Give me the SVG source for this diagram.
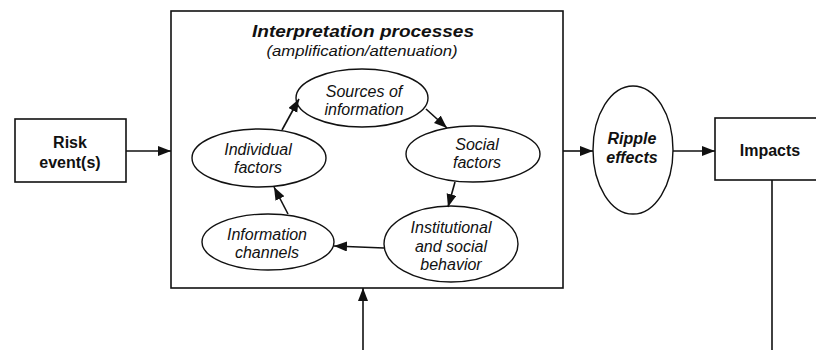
<svg xmlns="http://www.w3.org/2000/svg" width="816" height="350" viewBox="0 0 816 350">
<style>
.box{fill:#fff;stroke:#111;stroke-width:1.6}
.ell{fill:#fff;stroke:#111;stroke-width:1.4}
.con{fill:none;stroke:#111;stroke-width:1.6}
.t{font-family:"Liberation Sans",Arial,sans-serif;fill:#111;text-anchor:middle}
.b{font-weight:bold;font-size:16px}
.i{font-style:italic;font-size:16px}
.bi{font-weight:bold;font-style:italic;font-size:16px}
</style>
<defs>
<marker id="ah" markerUnits="userSpaceOnUse" markerWidth="14" markerHeight="11" refX="13" refY="5" orient="auto">
<path d="M0,0 L13,5 L0,10 z" fill="#111"/>
</marker>
</defs>
<g id="interpretation">
<rect class="box" x="171" y="11" width="392" height="277"/>
<text class="t bi" x="363" y="37" font-size="18" textLength="222" lengthAdjust="spacingAndGlyphs">Interpretation processes</text>
<text class="t i" x="362" y="56" style="font-size:14px" textLength="191" lengthAdjust="spacingAndGlyphs">(amplification/attenuation)</text>
</g>
<g id="risk">
<rect class="box" x="15" y="119" width="111" height="63"/>
<text class="t b" x="70" y="148">Risk</text>
<text class="t b" x="70" y="168">event(s)</text>
</g>
<g id="sources">
<ellipse class="ell" cx="362" cy="98" rx="66" ry="29"/>
<text class="t i" x="364" y="97">Sources of</text>
<text class="t i" x="364" y="115">information</text>
</g>
<g id="social">
<ellipse class="ell" cx="473" cy="154" rx="67" ry="28"/>
<text class="t i" x="477" y="150">Social</text>
<text class="t i" x="477" y="168">factors</text>
</g>
<g id="institutional">
<ellipse class="ell" cx="451" cy="244" rx="67" ry="38"/>
<text class="t i" x="451" y="233">Institutional</text>
<text class="t i" x="451" y="252">and social</text>
<text class="t i" x="451" y="270">behavior</text>
</g>
<g id="channels">
<ellipse class="ell" cx="268" cy="242" rx="66" ry="28"/>
<text class="t i" x="267" y="240">Information</text>
<text class="t i" x="267" y="258">channels</text>
</g>
<g id="individual">
<ellipse class="ell" cx="259" cy="158" rx="67" ry="29"/>
<text class="t i" x="258" y="155">Individual</text>
<text class="t i" x="258" y="173">factors</text>
</g>
<g id="ripple">
<ellipse class="ell" cx="633" cy="150" rx="40" ry="64"/>
<text class="t bi" x="632" y="144">Ripple</text>
<text class="t bi" x="632" y="163">effects</text>
</g>
<g id="impacts">
<rect class="box" x="715" y="118" width="120" height="62"/>
<text class="t b" x="770" y="156">Impacts</text>
</g>
<g id="connectors">
<line class="con" x1="126" y1="151" x2="171" y2="151" marker-end="url(#ah)"/>
<line class="con" x1="563" y1="151" x2="593" y2="151" marker-end="url(#ah)"/>
<line class="con" x1="673" y1="151" x2="715" y2="151" marker-end="url(#ah)"/>
<line class="con" x1="363" y1="350" x2="363" y2="288" marker-end="url(#ah)"/>
<line class="con" x1="772" y1="180" x2="772" y2="350"/>
<line class="con" x1="282" y1="130" x2="299" y2="99" marker-end="url(#ah)"/>
<line class="con" x1="426" y1="109" x2="447" y2="128" marker-end="url(#ah)"/>
<line class="con" x1="455" y1="182" x2="448" y2="207" marker-end="url(#ah)"/>
<line class="con" x1="384" y1="248" x2="334" y2="246" marker-end="url(#ah)"/>
<line class="con" x1="288" y1="214" x2="274" y2="187" marker-end="url(#ah)"/>
</g>
</svg>
